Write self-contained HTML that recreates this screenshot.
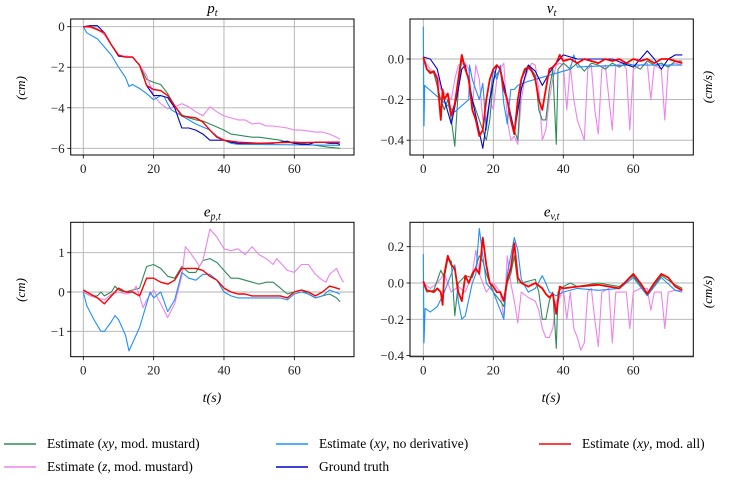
<!DOCTYPE html>
<html><head><meta charset="utf-8">
<style>
body{margin:0;background:#fff;}
svg{display:block;font-family:"Liberation Serif",serif;}
</style></head>
<body>
<svg id="chart" width="740" height="483" viewBox="0 0 740 483" xmlns="http://www.w3.org/2000/svg"></svg>
<script>
// ---- data: p_t ----
const pGT_t=[0,2,4,6,8,10,12,14,16,18,20,22,24,26,28,30,32,34,36,38,40,42,44,46,48,50,52,54,56,58,60,62,64,66,68,70,72,73];
const pGT_v=[0,0.05,0.05,-0.3,-0.9,-1.45,-1.5,-1.5,-1.9,-2.9,-3.4,-3.4,-3.5,-4.0,-5.0,-5.0,-5.1,-5.3,-5.6,-5.6,-5.6,-5.7,-5.75,-5.75,-5.75,-5.75,-5.75,-5.75,-5.7,-5.65,-5.75,-5.8,-5.8,-5.7,-5.7,-5.75,-5.75,-5.8];
const pRed_t=[0,2,4,6,8,10,12,14,16,18,20,22,24,26,28,30,32,34,36,38,40,42,44,46,50,60,62,70,73];
const pRed_v=[0,0,-0.15,-0.3,-0.9,-1.4,-1.5,-1.5,-1.9,-2.9,-3.1,-3.15,-3.4,-3.9,-4.4,-4.45,-4.5,-4.7,-5.1,-5.45,-5.6,-5.65,-5.7,-5.72,-5.75,-5.7,-5.72,-5.7,-5.7];
const pGreen_t=[0,2,4,6,8,10,12,14,16,18,20,22,24,26,28,30,32,34,36,38,40,42,44,46,48,50,52,54,56,58,60,62,64,66,68,70,73];
const pGreen_v=[0,0,-0.1,-0.4,-0.9,-1.45,-1.45,-1.5,-1.9,-2.6,-2.75,-2.85,-3.3,-3.9,-4.35,-4.5,-4.6,-4.65,-4.8,-4.95,-5.1,-5.3,-5.35,-5.4,-5.45,-5.45,-5.5,-5.55,-5.6,-5.7,-5.75,-5.75,-5.8,-5.85,-5.9,-5.95,-6.0];
const pLBlue_t=[0,1,4,6,8,10,12,13,14,16,18,20,22,23,24,25,28,30,32,34,36,38,40,42,44,73];
const pLBlue_v=[0,-0.3,-0.6,-1.0,-1.4,-2.0,-2.5,-2.95,-2.85,-3.05,-3.3,-3.6,-3.4,-3.45,-3.8,-4.1,-4.4,-4.6,-4.8,-4.95,-5.1,-5.4,-5.6,-5.75,-5.8,-5.85];
const pPink_t=[0,4,6,8,10,12,14,16,18,20,22,24,26,28,30,32,34,36,38,40,42,44,46,48,50,52,54,56,58,60,62,64,66,68,70,72,73];
const pPink_v=[0,-0.1,-0.4,-0.9,-1.45,-1.45,-1.5,-1.9,-2.4,-3.4,-3.8,-4.05,-3.95,-3.8,-3.95,-4.2,-4.4,-3.95,-4.2,-4.4,-4.5,-4.6,-4.6,-4.8,-4.75,-4.9,-4.9,-4.95,-5.0,-5.1,-5.1,-5.15,-5.2,-5.2,-5.3,-5.45,-5.55];
// ---- data: v_t ----
const vGT_t=[0,2,4,6,8,10,11,12,14,17,19,21,22,24,26,28,30,32,34,36,38,40,44,48,54,57,60,62,64,66,68,70,72,74];
const vGT_v=[0.01,0,-0.05,-0.2,-0.32,-0.15,-0.05,-0.03,-0.2,-0.44,-0.2,-0.03,-0.05,-0.2,-0.36,-0.15,-0.03,-0.06,-0.13,-0.07,-0.02,0.02,0,0,0,-0.02,-0.04,0,0.04,0,-0.05,0,0.02,0.02];
const vRed_t=[0,1,2,3,4,5,5.5,6,7,8,9,10,11,12,13,14,15,16,17,18,19,20,21,22,23,24,25,26,27,28,29,30,31,32,33,34,35,36,37,38,39,40,42,44,46,48,50,52,54,56,58,60,62,64,66,68,70,72,74];
const vRed_v=[0.01,-0.05,-0.07,-0.06,-0.1,-0.3,-0.15,-0.2,-0.17,-0.28,-0.22,-0.1,0.02,-0.05,-0.1,-0.25,-0.3,-0.38,-0.35,-0.2,-0.1,-0.05,-0.03,-0.05,-0.15,-0.2,-0.3,-0.37,-0.2,-0.1,-0.05,-0.04,-0.06,-0.1,-0.2,-0.25,-0.15,-0.05,-0.04,-0.02,0.02,-0.01,0,-0.02,0,-0.01,-0.02,0,-0.01,0,-0.02,0,-0.01,0,-0.02,0,0,-0.01,-0.02];
const vGreen_t=[0,1,3,5,6,7,8,9,10,11,13,14,16,17,18,19,20,22,24,26,27,28,30,32,33,34,35,36,37,38,38.5,40,42,44,46,48,50,52,54,56,58,60,62,64,66,68,70,72,74];
const vGreen_v=[0.01,-0.05,-0.07,-0.2,-0.25,-0.2,-0.3,-0.43,-0.15,0,-0.1,-0.2,-0.3,-0.35,-0.4,-0.3,-0.1,-0.05,-0.2,-0.35,-0.4,-0.1,-0.03,-0.08,-0.25,-0.3,-0.3,-0.15,-0.05,-0.42,-0.05,-0.02,-0.05,-0.02,-0.06,-0.02,-0.03,-0.05,-0.02,-0.04,-0.02,-0.03,-0.05,-0.01,-0.03,-0.02,-0.04,-0.01,-0.01];
const vLBlue_t=[0,0.2,0.4,1,5,9,13,13.2,14,15,16,17,18,19,20,21,22,23,24,25,26,27,30,34,38,42,43,44,50,60,74];
const vLBlue_v=[0.16,-0.33,-0.13,-0.14,-0.2,-0.26,-0.2,-0.03,-0.1,-0.15,-0.2,-0.12,-0.35,-0.2,-0.05,-0.1,-0.03,-0.22,-0.32,-0.15,-0.15,-0.13,-0.11,-0.09,-0.07,-0.05,0.02,-0.04,-0.035,-0.03,-0.03];
const vPink_t=[0,2,4,5,8,9,10,12,13,14,15,16,17,18,19,20,21,22,23,24,25,26,27,28,29,30,31,32,33,34,35,36,37,38,39,40,41,42,43,44,45,46,47,48,49,50,51,52,54,55,57,58,59,60,62,64,65,66,68,69,70,72,74];
const vPink_v=[0,-0.05,-0.08,-0.15,-0.2,-0.1,-0.03,-0.02,-0.05,-0.25,-0.03,-0.1,-0.3,-0.3,-0.2,-0.25,-0.1,-0.05,-0.02,-0.3,-0.4,-0.38,-0.42,-0.2,-0.1,-0.05,-0.02,-0.03,-0.15,-0.4,-0.35,-0.2,-0.1,-0.03,-0.02,-0.03,-0.25,-0.03,-0.2,-0.3,-0.35,-0.4,-0.05,-0.03,-0.25,-0.37,-0.05,-0.03,-0.35,-0.03,-0.02,-0.05,-0.35,-0.05,-0.03,-0.02,-0.2,-0.03,-0.05,-0.3,-0.03,-0.02,-0.03];
// ---- data: e_p ----
const epRed_t=[0,2,4,6,8,10,12,14,16,18,20,22,24,26,28,30,32,34,36,38,40,42,44,46,48,56,58,60,62,64,66,68,70,72,73];
const epRed_v=[0.05,-0.05,-0.15,-0.3,-0.1,0.1,0,0,-0.1,0.35,0.35,0.25,0.2,0.3,0.6,0.6,0.6,0.55,0.4,0.3,0.1,0,-0.05,-0.05,-0.1,-0.1,-0.15,0,0.05,0,-0.1,0,0.15,0.1,0.07];
const epGreen_t=[0,2,4,5,6,8,9,10,12,14,16,18,20,22,24,26,28,30,32,34,36,38,40,42,44,46,48,50,52,54,56,58,60,62,64,66,68,70,72,73];
const epGreen_v=[0,-0.1,-0.1,0,-0.1,0,0.15,0.05,0,0.05,0.1,0.65,0.7,0.6,0.4,0.35,0.65,0.5,0.5,0.8,0.85,0.75,0.55,0.35,0.35,0.3,0.25,0.2,0.25,0.25,0.1,-0.05,0,0.05,-0.05,-0.15,-0.1,-0.05,-0.15,-0.25];
const epLBlue_t=[0,1,3,5,6,8,9,10,12,13,14,16,18,19,20,22,24,26,28,30,32,34,36,38,40,42,44,56,58,60,62,64,66,68,70,73];
const epLBlue_v=[0,-0.35,-0.7,-1.0,-1.0,-0.75,-0.6,-0.7,-1.1,-1.5,-1.3,-0.9,-0.3,0,-0.15,0,-0.5,-0.2,0.5,0.35,0.3,0.45,0.45,0.3,0,-0.1,-0.15,-0.15,-0.2,-0.05,0,-0.05,-0.15,-0.1,0.05,-0.05];
const epPink_t=[0,2,4,6,8,10,12,14,15,16,17,18,20,22,24,26,28,29,30,32,33,34,36,38,40,42,44,46,48,50,52,54,55,56,58,60,62,64,66,68,69,70,72,73,74];
const epPink_v=[0,-0.1,-0.15,-0.2,-0.05,0,-0.05,0,0.15,-0.1,-0.4,-0.2,0.05,-0.3,-0.65,-0.3,0.4,1.15,1.05,0.8,0.65,0.8,1.6,1.4,1.1,1.05,1.1,0.95,1.15,0.95,0.85,0.7,0.85,0.75,0.55,0.5,0.7,0.7,0.45,0.3,0.25,0.45,0.6,0.4,0.25];
// ---- data: e_v ----
const evRed_t=[0,1,3,4,5,5.5,6,7,8,9,10,11,12,13,14,15,16,17,18,19,20,21,22,23,24,25,26,27,28,30,32,34,35,36,37,38,39,40,44,50,56,60,62,64,66,68,70,72,74];
const evRed_v=[0.01,-0.04,-0.05,-0.03,-0.05,-0.12,0.05,0.15,0.1,0.08,-0.05,-0.1,0.04,0,0.05,0.08,0.05,0.25,0.1,0,-0.02,-0.05,-0.05,-0.1,0.02,0.08,0.22,0.03,0,-0.02,0,-0.03,-0.06,-0.08,-0.06,-0.17,-0.02,-0.03,-0.02,-0.01,-0.03,0.05,0,-0.06,0,0.05,0.03,-0.02,-0.04];
const evGreen_t=[0,1,3,5,6,7,8,9,10,12,14,16,17,18,19,20,22,23,24,25,26,27,28,32,33,34,35,36,37,38,38.5,40,42,44,50,56,60,64,68,72,74];
const evGreen_v=[0,-0.05,-0.04,0.07,0.03,0.13,0.12,-0.18,0,0.04,0.03,0.15,0.12,0.05,0,-0.05,-0.1,-0.13,0,0.05,0.15,0,0,0.02,-0.05,-0.2,-0.2,-0.1,-0.05,-0.36,-0.05,-0.02,0,-0.02,0,-0.02,0.04,-0.07,0.04,-0.01,-0.03];
const evLBlue_t=[0,0.2,0.5,2,4,6,8,9,10,11,12,14,15,16,17,18,20,22,23,24,25,26,27,28,30,32,34,35,36,38,40,44,50,56,60,64,68,72,74];
const evLBlue_v=[0.16,-0.33,-0.14,-0.16,-0.13,-0.05,0.05,0.1,-0.1,-0.2,-0.18,0,0.05,0.3,0.15,0,-0.05,-0.15,-0.2,0.05,0.15,0.25,0.18,0.02,-0.05,-0.03,0.04,0,-0.05,-0.07,-0.05,-0.03,-0.04,-0.03,0.03,-0.07,0.03,-0.04,-0.05];
const evPink_t=[0,2,4,6,8,10,12,14,15,16,18,20,22,23,24,25,26,27,28,30,32,33,34,35,36,37,38,39,40,41,42,43,44,45,46,47,48,49,50,51,53,54,55,58,59,60,62,64,65,66,68,69,70,72,74];
const evPink_v=[0,-0.03,0,0.05,-0.05,-0.02,-0.05,0.05,0.18,0.05,-0.05,0,-0.05,-0.2,0.15,0,-0.1,-0.22,-0.05,-0.08,-0.1,-0.15,-0.25,-0.3,-0.3,-0.25,-0.1,-0.08,-0.03,-0.2,-0.05,-0.25,-0.3,-0.37,-0.33,-0.05,-0.03,-0.2,-0.35,-0.05,-0.03,-0.33,-0.05,-0.05,-0.25,-0.05,-0.03,-0.03,-0.15,-0.05,-0.05,-0.25,-0.05,-0.04,-0.04];
const xTicks=[0,20,40,60];
const pTicks=[0,-2,-4,-6], pTickLabels=["0","−2","−4","−6"];
const vTicks=[0,-0.2,-0.4], vTickLabels=["0.0","−0.2","−0.4"];
const epTicks=[1,0,-1], epTickLabels=["1","0","−1"];
const evTicks=[0.2,0,-0.2,-0.4], evTickLabels=["0.2","0.0","−0.2","−0.4"];

const NS="http://www.w3.org/2000/svg";
const svg=document.getElementById('chart');
function mk(tag,attrs,parent){const e=document.createElementNS(NS,tag);for(const k in attrs)e.setAttribute(k,attrs[k]);(parent||svg).appendChild(e);return e;}
const C={green:"#2e8b57",lblue:"#1e90ff",red:"#ff0000",pink:"#ee82ee",gt:"#0000cd"};

function panel(name,box,x0,xs,y0,ys,yt,ytl,series,title,sub,ylabel,ylabelX,ylabelY){
  const g=mk('g',{});
  
  
  const X=t=>x0+t*xs, Y=v=>y0-v*ys;
  xTicks.forEach(t=>{const l=mk('line',{x1:X(t),x2:X(t),y1:box.t,y2:box.b,stroke:"#b0b0b0","stroke-width":0.9},g);
    
    const tk=mk('line',{x1:X(t),x2:X(t),y1:box.b,y2:box.b+3.5,stroke:"#000","stroke-width":0.8},g);
    
    const tx=mk('text',{x:X(t),y:box.b+18,"font-size":13,"text-anchor":"middle",fill:"#222"},g);tx.textContent=t;
    });
  yt.forEach((v,i)=>{const l=mk('line',{x1:box.l,x2:box.r,y1:Y(v),y2:Y(v),stroke:"#b0b0b0","stroke-width":0.9},g);
    
    const tk=mk('line',{x1:box.l-3.5,x2:box.l,y1:Y(v),y2:Y(v),stroke:"#000","stroke-width":0.8},g);
    
    const tx=mk('text',{x:box.l-6,y:Y(v)+4.5,"font-size":13,"text-anchor":"end",fill:"#222"},g);tx.textContent=ytl[i];
    });
  const cid='clip'+name;
  const cp=mk('clipPath',{id:cid},g);mk('rect',{x:box.l,y:box.t,width:box.r-box.l,height:box.b-box.t},cp);
  series.forEach(s=>{const d=s.t.map((t,i)=>(i?'L':'M')+X(t).toFixed(1)+','+Y(s.v[i]).toFixed(1)).join('');
    const p=mk('path',{d:d,fill:"none",stroke:s.c,"stroke-width":s.w||1.1,"stroke-linejoin":"round","clip-path":"url(#"+cid+")"},g);
    });
  const fr=mk('rect',{x:box.l,y:box.t,width:box.r-box.l,height:box.b-box.t,fill:"none",stroke:"#000","stroke-width":1},g);
  
  const tt=mk('text',{x:(box.l+box.r)/2,y:box.t-6,"font-size":15,"text-anchor":"middle","font-style":"italic"},g);
  tt.innerHTML=title+'<tspan font-size="10" dy="3">'+sub+'</tspan>';
  
  const yl=mk('text',{x:ylabelX,y:ylabelY,"font-size":13,"text-anchor":"middle","font-style":"italic",transform:`rotate(-90 ${ylabelX} ${ylabelY})`},g);
  yl.textContent=ylabel;
  
}
panel('panel-position',{l:70.7,r:354,t:19,b:155},83.3,3.517,26.7,20.27,pTicks,pTickLabels,[
 {t:pGreen_t,v:pGreen_v,c:C.green,n:'series-xy-mustard'},{t:pPink_t,v:pPink_v,c:C.pink,n:'series-z-mustard'},
 {t:pLBlue_t,v:pLBlue_v,c:C.lblue,n:'series-xy-no-derivative'},{t:pGT_t,v:pGT_v,c:C.gt,n:'series-ground-truth'},
 {t:pRed_t,v:pRed_v,c:C.red,n:'series-xy-all',w:1.4}],'p','t','(cm)',25,88);
panel('panel-velocity',{l:410,r:693.3,t:19,b:155},423.3,3.5,59,203,vTicks,vTickLabels,[
 {t:vPink_t,v:vPink_v,c:C.pink,n:'series-z-mustard'},{t:vGreen_t,v:vGreen_v,c:C.green,n:'series-xy-mustard'},
 {t:vLBlue_t,v:vLBlue_v,c:C.lblue,n:'series-xy-no-derivative'},{t:vGT_t,v:vGT_v,c:C.gt,n:'series-ground-truth'},
 {t:vRed_t,v:vRed_v,c:C.red,n:'series-xy-all',w:1.8}],'v','t','(cm/s)',712,87);
panel('panel-position-error',{l:70.7,r:354,t:222.3,b:356.7},83.3,3.517,292,39.3,epTicks,epTickLabels,[
 {t:epGreen_t,v:epGreen_v,c:C.green,n:'series-xy-mustard'},{t:epPink_t,v:epPink_v,c:C.pink,n:'series-z-mustard'},
 {t:epLBlue_t,v:epLBlue_v,c:C.lblue,n:'series-xy-no-derivative'},
 {t:epRed_t,v:epRed_v,c:C.red,n:'series-xy-all',w:1.4}],'e','p,t','(cm)',25,290);
panel('panel-velocity-error',{l:410,r:693.3,t:222.3,b:356.7},423.3,3.5,283,181.5,evTicks,evTickLabels,[
 {t:evPink_t,v:evPink_v,c:C.pink,n:'series-z-mustard'},{t:evGreen_t,v:evGreen_v,c:C.green,n:'series-xy-mustard'},
 {t:evLBlue_t,v:evLBlue_v,c:C.lblue,n:'series-xy-no-derivative'},
 {t:evRed_t,v:evRed_v,c:C.red,n:'series-xy-all',w:1.8}],'e','v,t','(cm/s)',712,292);
[[212,'x-axis-title-left'],[551,'x-axis-title-right']].forEach(([x,n])=>{const t=mk('text',{x:x,y:402,"font-size":14,"text-anchor":"middle","font-style":"italic"});
 t.textContent='t(s)';});
const leg=[[4,448,C.green,'Estimate (<tspan font-style="italic">xy</tspan>, mod. mustard)'],[4,471,C.pink,'Estimate (<tspan font-style="italic">z</tspan>, mod. mustard)'],
 [276,448,C.lblue,'Estimate (<tspan font-style="italic">xy</tspan>, no derivative)'],[276,471,C.gt,'Ground truth'],[539,448,C.red,'Estimate (<tspan font-style="italic">xy</tspan>, mod. all)']];
leg.forEach(([x,y,c,s])=>{const g=mk('g',{});
 
 mk('line',{x1:x,x2:x+32,y1:y-4,y2:y-4,stroke:c,"stroke-width":1.5},g);
 const t=mk('text',{x:x+43,y:y,"font-size":13.5},g);t.innerHTML=s;});
</script>
</body></html>
